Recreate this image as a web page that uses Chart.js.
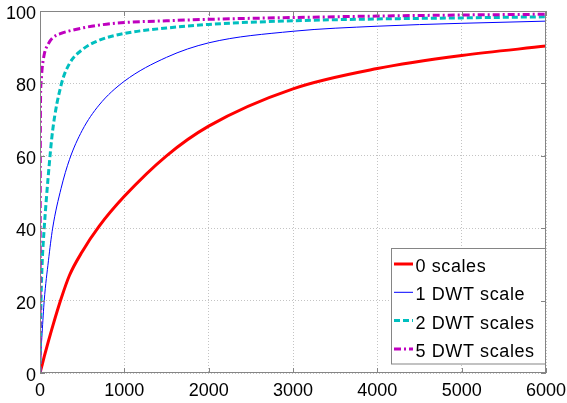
<!DOCTYPE html>
<html>
<head>
<meta charset="utf-8">
<script src="https://cdn.jsdelivr.net/npm/chart.js@4.4.1/dist/chart.umd.min.js"></script>
<style>
html,body{margin:0;padding:0;background:#fff;}
#wrap{width:567px;height:403px;}
</style>
</head>
<body>
<div id="wrap"><canvas id="grafico" width="567" height="403"></canvas></div>
<script>
// pontos de amostragem no eixo x (mais densos perto de zero, onde as curvas sobem rápido)
const xs = [0, 5, 12, 25, 50, 100, 150, 250, 350, 500, 700, 1000, 1500, 2000, 3000, 4000, 5000, 6000];

const escala0 = [0, 0.45, 1.1, 2.2, 4.5, 8.8, 12.9, 20.5, 27, 33.5, 40.5, 48.8, 60, 68.2, 78.5, 84.1, 87.7, 90.3];
const escala1 = [0, 2.5, 6, 11, 20, 31, 40, 51, 59, 67, 74, 80.6, 87.2, 91.2, 94.4, 95.8, 96.6, 97.2];
const escala2 = [0, 10, 20, 30, 40, 55, 67, 79.5, 85.5, 89.3, 91.9, 93.8, 95.3, 96.3, 97.3, 97.8, 98.1, 98.4];
const escala5 = [0, 72, 80, 84, 88, 91, 92.6, 93.8, 94.5, 95.3, 96.1, 96.8, 97.3, 97.7, 98.2, 98.6, 98.9, 99.1];

const rotulos = ["0 scales", "1 DWT scale", "2 DWT scales", "5 DWT scales"];
const ticksX = [0, 1000, 2000, 3000, 4000, 5000, 6000];
const ticksY = [0, 20, 40, 60, 80, 100];

const FONTE = '"Liberation Sans", Arial, Helvetica, sans-serif';
const CINZA = "#858585";

function pontos(ys){ return xs.map((x, i) => ({x: x, y: ys[i]})); }

const estilos = [
  {cor: "#ff0000", largura: 3, traco: []},
  {cor: "#0000ff", largura: 1, traco: []},
  {cor: "#00bfbf", largura: 3, traco: [6, 3]},
  {cor: "#bf00bf", largura: 3, traco: [7, 3, 2, 3]}
];
const series = [escala0, escala1, escala2, escala5];

const datasets = series.map((ys, i) => ({
  label: rotulos[i],
  data: pontos(ys),
  borderColor: estilos[i].cor,
  borderWidth: estilos[i].largura,
  borderDash: estilos[i].traco,
  borderCapStyle: "butt",
  pointRadius: 0,
  cubicInterpolationMode: "monotone",
  fill: false,
  order: series.length - i
}));

// legenda dentro da área do gráfico, canto inferior direito, e moldura com ticks para dentro
const moldura = {
  id: "moldura",
  afterDatasetsDraw(chart){
    const ctx = chart.ctx;
    const a = chart.chartArea;
    ctx.save();

    // caixa da legenda
    const lx = 391, ly = 248.5, lw = a.right - 391, lh = 115.5;
    ctx.fillStyle = "#fff";
    ctx.fillRect(lx, ly, lw, lh);
    ctx.strokeStyle = CINZA;
    ctx.lineWidth = 1;
    ctx.setLineDash([]);
    ctx.strokeRect(lx + 0.5, ly, lw - 1, lh);

    ctx.font = "18px " + FONTE;
    ctx.letterSpacing = "0.6px";
    ctx.textBaseline = "alphabetic";
    ctx.textAlign = "left";
    rotulos.forEach((txt, i) => {
      const base = 272 + i * 28.3;
      const yl = base - 8;
      ctx.beginPath();
      ctx.strokeStyle = estilos[i].cor;
      ctx.lineWidth = estilos[i].largura;
      ctx.setLineDash(estilos[i].traco);
      ctx.lineCap = "butt";
      ctx.moveTo(394, yl);
      ctx.lineTo(413, yl);
      ctx.stroke();
      ctx.fillStyle = "#000";
      ctx.fillText(txt, 415.5, base);
    });
    ctx.letterSpacing = "0px";

    // moldura e ticks
    ctx.setLineDash([]);
    ctx.strokeStyle = CINZA;
    ctx.lineWidth = 1;
    ctx.strokeRect(a.left + 0.5, a.top + 0.5, a.right - a.left - 1, a.bottom - a.top - 1);
    const tam = 5;
    ctx.beginPath();
    chart.scales.x.ticks.forEach(t => {
      const px = Math.round(chart.scales.x.getPixelForValue(t.value)) + 0.5;
      ctx.moveTo(px, a.bottom); ctx.lineTo(px, a.bottom - tam);
      ctx.moveTo(px, a.top); ctx.lineTo(px, a.top + tam);
    });
    chart.scales.y.ticks.forEach(t => {
      const py = Math.round(chart.scales.y.getPixelForValue(t.value)) + 0.5;
      ctx.moveTo(a.left, py); ctx.lineTo(a.left + tam, py);
      ctx.moveTo(a.right, py); ctx.lineTo(a.right - tam, py);
    });
    ctx.stroke();
    ctx.restore();
  }
};

new Chart(document.getElementById("grafico"), {
  type: "line",
  data: {datasets: datasets},
  options: {
    responsive: false,
    animation: false,
    layout: {padding: {top: 11, right: 21, left: 0, bottom: 0}},
    plugins: {legend: {display: false}, tooltip: {enabled: false}},
    scales: {
      x: {
        type: "linear",
        min: 0, max: 6000,
        afterBuildTicks: s => { s.ticks = ticksX.map(v => ({value: v})); },
        afterFit: s => { s.height = 30; s.paddingLeft = 0; s.paddingRight = 0; },
        ticks: {color: "#000", font: {family: FONTE, size: 18}, padding: 7, maxRotation: 0,
                callback: v => String(v)},
        grid: {color: "#c4c4c4", drawTicks: false},
        border: {display: false, dash: [1, 2]}
      },
      y: {
        type: "linear",
        min: 0, max: 100,
        afterBuildTicks: s => { s.ticks = ticksY.map(v => ({value: v})); },
        afterFit: s => { s.width = 40; s.paddingTop = 0; s.paddingBottom = 0; },
        ticks: {color: "#000", font: {family: FONTE, size: 18}, padding: 4, labelOffset: 3,
                callback: v => String(v)},
        grid: {color: "#c4c4c4", drawTicks: false},
        border: {display: false, dash: [1, 2]}
      }
    }
  },
  plugins: [moldura]
});
</script>
</body>
</html>
